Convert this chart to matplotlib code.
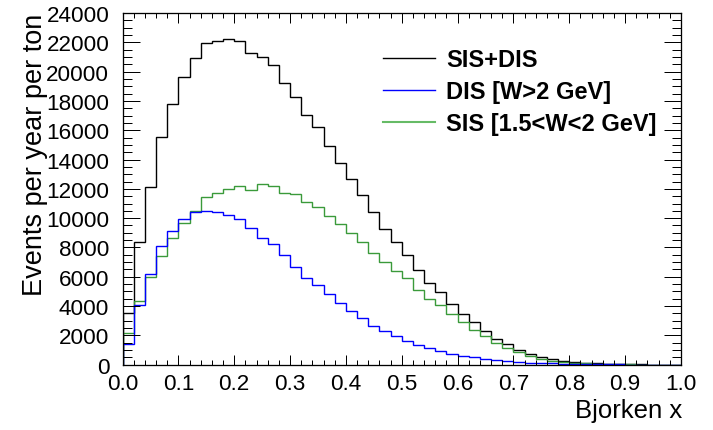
import numpy as np
import matplotlib
matplotlib.use("Agg")
import matplotlib.pyplot as plt
from matplotlib.ticker import MultipleLocator, FixedLocator
from matplotlib.lines import Line2D

# ---- data: 50 bins of Bjorken x in [0, 1] ----
x_min, x_max, n_bins = 0.0, 1.0, 50

sis_dis = [3550, 8390, 12160, 15520, 17790, 19660, 20930, 21970, 22110, 22250,
           22090, 21290, 21020, 20450, 19210, 18270, 17010, 16190, 14940, 13760,
           12660, 11570, 10430, 9250, 8360, 7510, 6470, 5590, 4950, 4120,
           3480, 2890, 2320, 1730, 1400, 1030, 760, 530, 370, 260,
           185, 125, 90, 60, 40, 25, 17, 11, 7, 4]

dis = [1410, 4070, 6180, 8070, 9110, 9950, 10430, 10520, 10430, 10200,
       9910, 9300, 8680, 8270, 7520, 6660, 5910, 5430, 4800, 4200,
       3640, 3180, 2660, 2270, 1980, 1640, 1360, 1110, 910, 750,
       610, 500, 386, 300, 235, 180, 140, 110, 85, 65,
       50, 38, 28, 20, 14, 10, 7, 5, 3, 2]

sis = [2140, 4320, 6000, 7430, 8660, 9700, 10500, 11410, 11700, 12020,
       12180, 11950, 12360, 12180, 11750, 11640, 11120, 10730, 10160, 9570,
       9020, 8390, 7610, 6980, 6410, 5890, 5070, 4480, 4070, 3455,
       2930, 2390, 1930, 1455, 1150, 840, 600, 420, 280, 190,
       130, 90, 60, 40, 25, 15, 10, 6, 4, 2]

labels = ["SIS+DIS", "DIS [W>2 GeV]", "SIS [1.5<W<2 GeV]"]
x_ticks = [0.0, 0.1, 0.2, 0.3, 0.4, 0.5, 0.6, 0.7, 0.8, 0.9, 1.0]
x_tick_labels = ["0.0", "0.1", "0.2", "0.3", "0.4", "0.5", "0.6", "0.7", "0.8", "0.9", "1.0"]
y_ticks = [0, 2000, 4000, 6000, 8000, 10000, 12000, 14000, 16000, 18000, 20000, 22000, 24000]
y_tick_labels = [str(v) for v in y_ticks]
x_title = "Bjorken x"
y_title = "Events per year per ton"

# ---- style ----
plt.rcParams['font.family'] = ['Liberation Sans', 'DejaVu Sans']
W, H, DPI = 713, 431, 100
fig = plt.figure(figsize=(W / DPI, H / DPI), dpi=DPI)
ax = fig.add_axes([122.5 / W, 1 - 365.7 / H, (681 - 122.5) / W, (365.7 - 14) / H])

edges = np.linspace(x_min, x_max, n_bins + 1)
green = '#3a9a3a'
blue = '#0000ff'
ax.stairs(sis_dis, edges, color='black', lw=1.0, label=labels[0])
ax.stairs(sis, edges, color=green, lw=1.0, label=labels[2])
ax.stairs(dis, edges, color=blue, lw=1.0, label=labels[1])

ax.set_xlim(x_min, x_max)
ax.set_ylim(0, 24000)
ax.xaxis.set_major_locator(FixedLocator(x_ticks))
ax.set_xticklabels(x_tick_labels)
ax.xaxis.set_minor_locator(MultipleLocator(0.02))
ax.yaxis.set_major_locator(FixedLocator(y_ticks))
ax.set_yticklabels(y_tick_labels)
ax.yaxis.set_minor_locator(MultipleLocator(500))

px = 72.0 / DPI
ax.tick_params(axis='both', which='both', direction='in', top=True, right=True,
               width=1.0 * px, color='black', labelsize=16.2)
ax.tick_params(axis='x', which='major', length=10 * px, pad=6)
ax.tick_params(axis='x', which='minor', length=5 * px)
ax.tick_params(axis='y', which='major', length=17 * px, pad=9.5)
ax.tick_params(axis='y', which='minor', length=9 * px)
for s in ax.spines.values():
    s.set_linewidth(1.3 * px)

fig.text(35 / W, 1 - 14 / H, y_title, rotation=90, ha='center', va='top', fontsize=19.5)
fig.text(682 / W, 1 - 411 / H, x_title, ha='right', va='center', fontsize=18.5)

handles = [Line2D([], [], color='black', lw=1.0),
           Line2D([], [], color=blue, lw=1.0),
           Line2D([], [], color='#66bb66', lw=1.5)]
fig.legend(handles, labels, loc='upper left', bbox_to_anchor=(383 / W, 1 - 49 / H),
           frameon=False, borderpad=0, borderaxespad=0, handlelength=2.2,
           handletextpad=0.47, labelspacing=0.39,
           prop={'weight': 'bold', 'size': 17})

fig.savefig('out.png', dpi=DPI)
